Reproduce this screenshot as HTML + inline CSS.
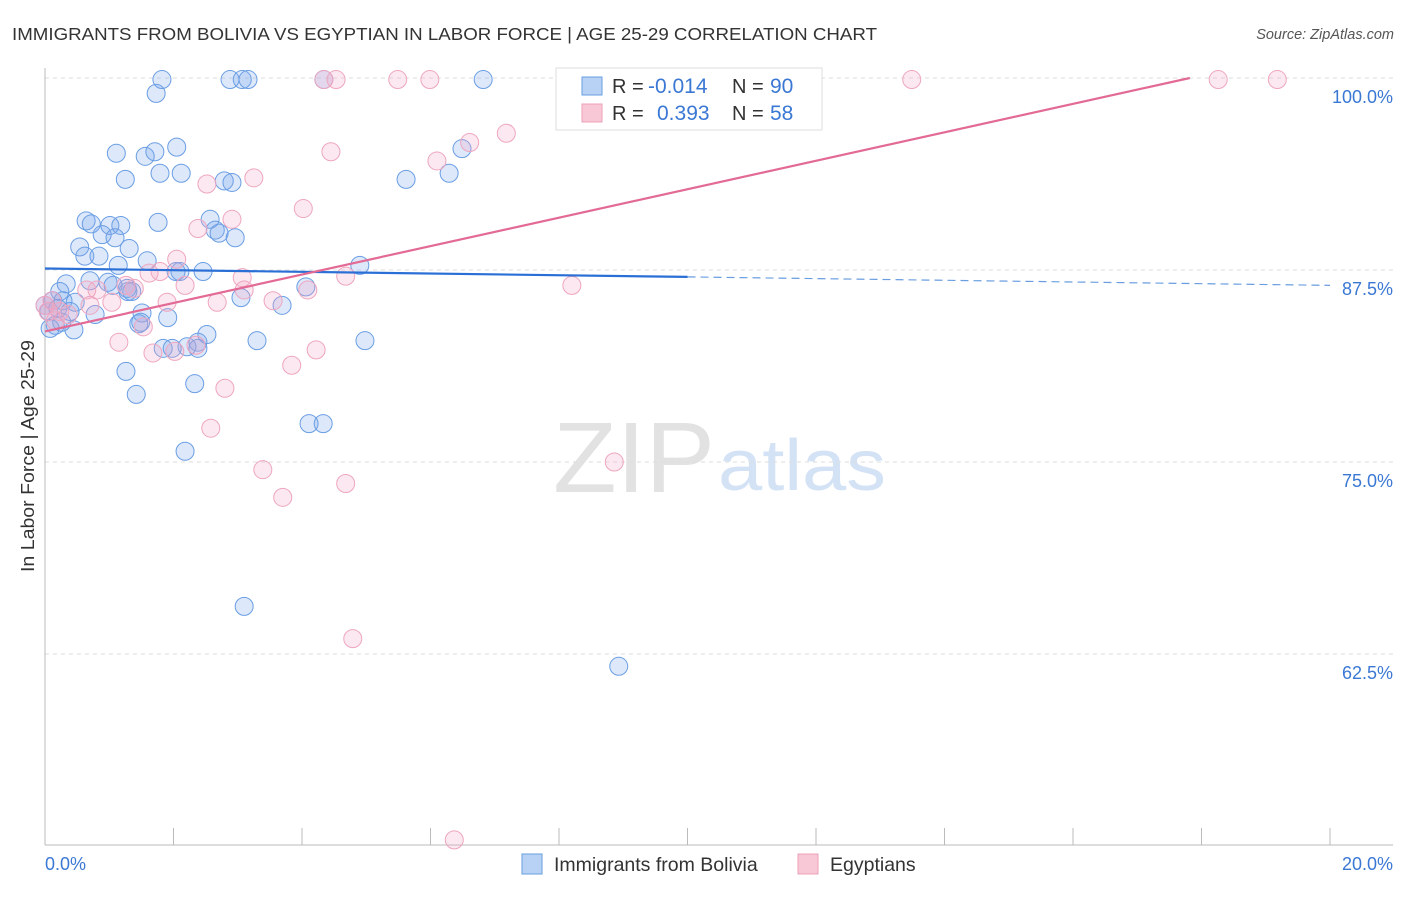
<!DOCTYPE html>
<html><head><meta charset="utf-8"><style>
body{margin:0;background:#fff;font-family:"Liberation Sans",sans-serif;}
svg text{font-family:"Liberation Sans",sans-serif;}
</style></head><body>
<svg width="1406" height="892">
<text x="12" y="40" font-size="17.5" fill="#333" textLength="865" lengthAdjust="spacingAndGlyphs">IMMIGRANTS FROM BOLIVIA VS EGYPTIAN IN LABOR FORCE | AGE 25-29 CORRELATION CHART</text>
<text x="1394" y="39" font-size="14.5" fill="#555" font-style="italic" text-anchor="end">Source: ZipAtlas.com</text>
<text x="553" y="492" font-size="100" fill="#e2e2e2" font-family="Liberation Serif, serif" textLength="162" lengthAdjust="spacingAndGlyphs">ZIP</text>
<text x="718" y="490" font-size="72" fill="#d4e2f5" textLength="168" lengthAdjust="spacingAndGlyphs">atlas</text>
<g id="grid"></g>
<g id="axes"></g>
<g id="marks"></g>
<g id="trend"></g>
<text transform="translate(34,456) rotate(-90)" font-size="18" fill="#333" text-anchor="middle" textLength="232" lengthAdjust="spacingAndGlyphs">In Labor Force | Age 25-29</text>
<g>
<rect x="556" y="68" width="266" height="62" fill="#fff" stroke="#ddd"/>
<rect x="582" y="77" width="20" height="18" fill="#b8d2f5" stroke="#6a9ee0"/>
<rect x="582" y="104" width="20" height="18" fill="#f9c8d6" stroke="#eda0b8"/>
<text x="612" y="93" font-size="20" fill="#333">R = </text><text x="648" y="93" font-size="21" fill="#3a78d4">-0.014</text>
<text x="732" y="93" font-size="20" fill="#333">N = </text><text x="770" y="93" font-size="21" fill="#3a78d4">90</text>
<text x="612" y="120" font-size="20" fill="#333">R = </text><text x="657" y="120" font-size="21" fill="#3a78d4">0.393</text>
<text x="732" y="120" font-size="20" fill="#333">N = </text><text x="770" y="120" font-size="21" fill="#3a78d4">58</text>
</g>
<g>
<rect x="522" y="854" width="20" height="20" fill="#b8d2f5" stroke="#6a9ee0"/>
<text x="554" y="871" font-size="19.5" fill="#333">Immigrants from Bolivia</text>
<rect x="798" y="854" width="20" height="20" fill="#f9c8d6" stroke="#eda0b8"/>
<text x="830" y="871" font-size="19.5" fill="#333">Egyptians</text>
</g>
</svg>
<script>
const blueX=[1.82,2.88,3.07,3.16,4.34,6.82,1.73,1.11,1.56,1.71,2.05,6.49,1.25,1.79,2.12,2.79,2.91,5.62,6.29,0.64,0.72,1.01,1.18,1.76,2.57,2.65,2.71,2.96,0.54,0.62,0.89,1.09,1.31,0.84,1.14,1.59,0.70,0.98,1.29,0.33,0.23,2.10,2.46,2.04,4.90,0.00,0.12,0.28,0.47,0.06,0.16,0.45,0.78,1.06,1.35,1.51,1.46,1.91,1.49,1.28,3.05,3.69,4.06,0.20,0.39,0.26,0.08,2.52,1.84,1.98,2.21,2.38,2.38,3.30,4.98,1.26,2.33,1.42,4.11,4.33,2.18,3.10,8.93];
const blueY=[99.9,99.9,99.9,99.9,99.9,99.9,99.0,95.1,94.9,95.2,95.5,95.4,93.4,93.8,93.8,93.3,93.2,93.4,93.8,90.7,90.5,90.4,90.4,90.6,90.8,90.1,89.9,89.6,89.0,88.4,89.8,89.6,88.9,88.4,87.8,88.1,86.8,86.7,86.1,86.6,86.1,87.4,87.4,87.4,87.8,85.2,85.5,85.5,85.4,84.8,83.9,83.6,84.6,86.5,86.1,84.7,84.0,84.4,84.1,86.3,85.7,85.2,86.4,85.0,84.8,84.1,83.7,83.3,82.4,82.4,82.5,82.8,82.4,82.9,82.9,80.9,80.1,79.4,77.5,77.5,75.7,65.6,61.7];
const pinkX=[4.34,4.53,5.49,5.99,8.95,10.46,13.49,18.26,19.18,7.18,6.61,4.45,6.10,3.25,2.52,4.02,2.91,2.38,2.05,1.62,1.79,3.07,3.10,2.18,4.68,8.20,4.09,3.55,2.68,1.90,1.04,1.26,1.39,0.65,0.81,0.70,0.11,0.00,0.05,0.23,0.36,0.16,1.53,1.15,1.68,2.02,2.35,4.22,3.84,2.80,2.58,3.39,3.70,4.68,8.86,4.79,6.37];
const pinkY=[99.9,99.9,99.9,99.9,99.9,99.9,99.9,99.9,99.9,96.4,95.8,95.2,94.6,93.5,93.1,91.5,90.8,90.2,88.2,87.3,87.4,87.0,86.2,86.5,87.1,86.5,86.2,85.5,85.4,85.4,85.4,86.5,86.3,86.2,86.2,85.2,85.5,85.2,84.8,84.8,84.6,84.2,83.8,82.8,82.1,82.2,82.6,82.3,81.3,79.8,77.2,74.5,72.7,73.6,75.0,63.5,50.4];
const blueTrend=[87.6,86.5];   // value at x=0 and x=20
const pinkTrend=[83.5,0.926];  // intercept, slope per %
const yTicks=[100,87.5,75,62.5];
const yTickLabels=["100.0%","87.5%","75.0%","62.5%"];
const xTicks=[0,2,4,6,8,10,12,14,16,18,20];

const NS="http://www.w3.org/2000/svg";
const X=v=>45+v*64.25;
const Y=v=>78+(100-v)*15.36;
function mk(tag,attrs,parent){const e=document.createElementNS(NS,tag);for(const k in attrs)e.setAttribute(k,attrs[k]);document.getElementById(parent).appendChild(e);return e;}

yTicks.forEach((t,i)=>{
  const g=mk('line',{x1:45,x2:1393,y1:Y(t),y2:Y(t),stroke:'#ddd','stroke-dasharray':'4,4'},'grid');
  
  
  const l=mk('text',{x:1393,y:Y(t)+25,'font-size':18,fill:'#3a78d4','text-anchor':'end'},'grid');
  l.textContent=yTickLabels[i];
  
  
});
const ax=mk('line',{x1:45,x2:45,y1:68,y2:845,stroke:'#bbb'},'axes');


const bx=mk('line',{x1:45,x2:1393,y1:845,y2:845,stroke:'#bbb'},'axes');


xTicks.forEach(t=>{
  const k=mk('line',{x1:X(t),x2:X(t),y1:828,y2:845,stroke:'#bbb'},'axes');
  
  
});
const x0=mk('text',{x:45,y:870,'font-size':18,fill:'#3a78d4'},'axes');x0.textContent='0.0%';


const x1=mk('text',{x:1393,y:870,'font-size':18,fill:'#3a78d4','text-anchor':'end'},'axes');x1.textContent='20.0%';



blueX.forEach((v,i)=>{
  const c=mk('circle',{cx:X(v),cy:Y(blueY[i]),r:9,fill:'rgba(120,165,235,0.25)',stroke:'#6a9ee4','stroke-width':1},'marks');
  
  
});
pinkX.forEach((v,i)=>{
  const c=mk('circle',{cx:X(v),cy:Y(pinkY[i]),r:9,fill:'rgba(245,165,195,0.25)',stroke:'#eea6bf','stroke-width':1},'marks');
  
  
});
const bm=blueTrend[0]+(blueTrend[1]-blueTrend[0])*0.5;
const t1=mk('line',{x1:X(0),y1:Y(blueTrend[0]),x2:X(10),y2:Y(bm),stroke:'#2a6fd6','stroke-width':2.2},'trend');


const t2=mk('line',{x1:X(10),y1:Y(bm),x2:X(20),y2:Y(blueTrend[1]),stroke:'#6a9ee0','stroke-width':1.2,'stroke-dasharray':'8,5'},'trend');


const xe=(100-pinkTrend[0])/pinkTrend[1];
const t3=mk('line',{x1:X(0),y1:Y(pinkTrend[0]),x2:X(xe),y2:Y(100),stroke:'#e26a95','stroke-width':2.2},'trend');


</script>
</body></html>
